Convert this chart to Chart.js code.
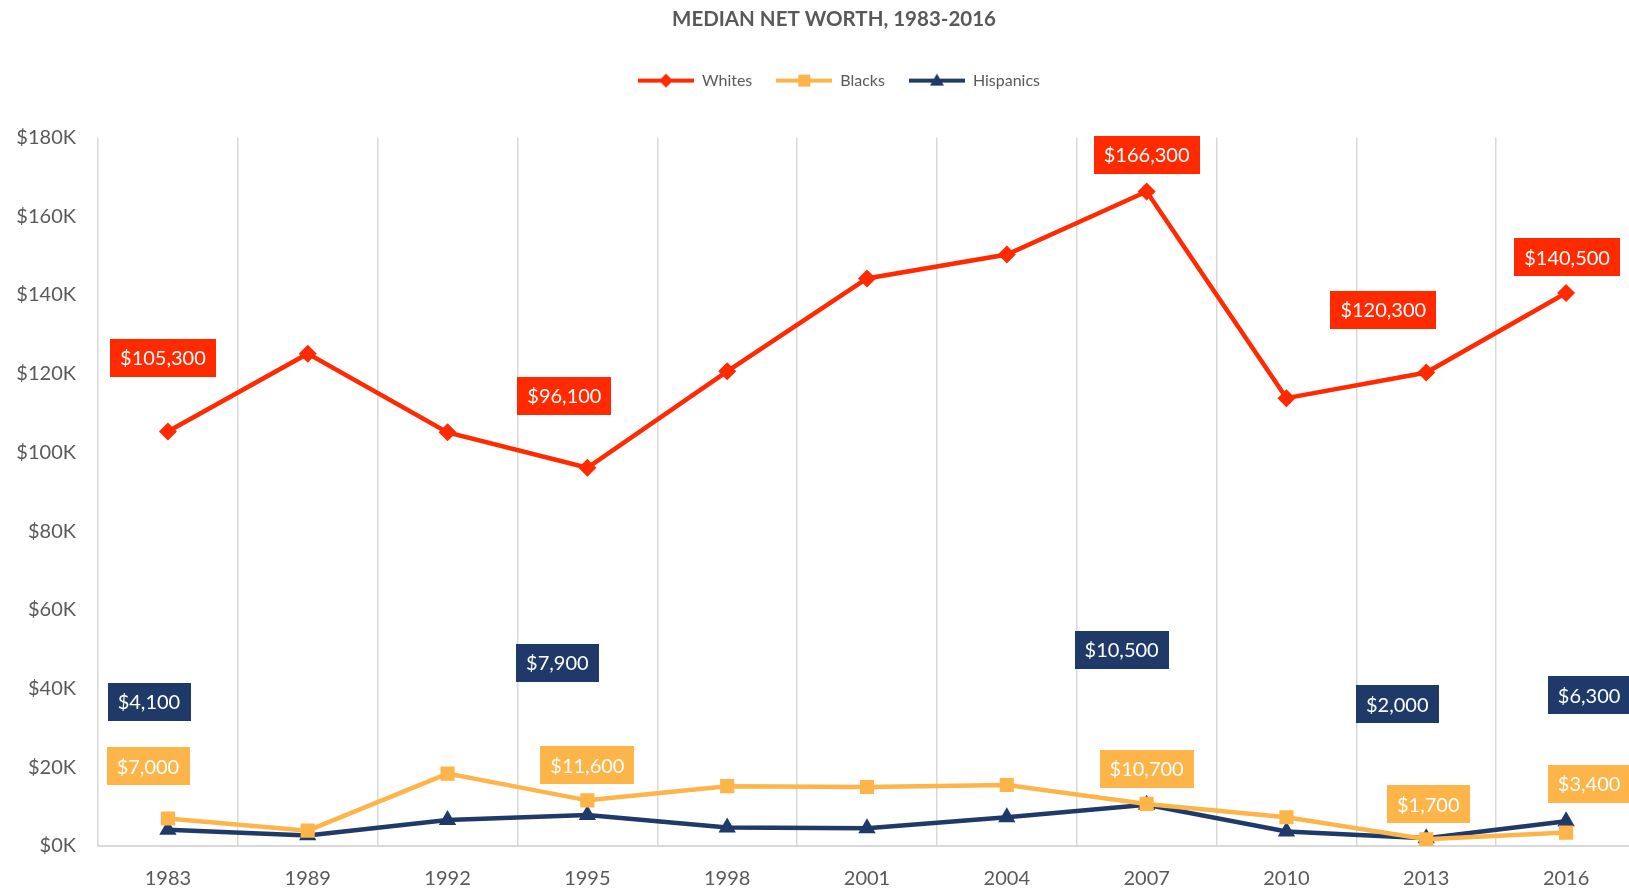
<!DOCTYPE html>
<html><head><meta charset="utf-8">
<script src="https://cdn.jsdelivr.net/npm/chart.js@4"></script>
<style>html,body{margin:0;padding:0;background:#fff;overflow:hidden}#wrap{width:1668px;height:889px}</style>
</head><body><div id="wrap"><canvas id="c" width="1668" height="889"></canvas></div>
<script>
const years = ['1983','1989','1992','1995','1998','2001','2004','2007','2010','2013','2016'];
const whites    = [105300, 125100, 105100, 96100, 120600, 144200, 150300, 166300, 113800, 120300, 140500];
const blacks    = [7000, 3900, 18400, 11600, 15200, 15000, 15500, 10700, 7300, 1700, 3400];
const hispanics = [4100, 2700, 6600, 7900, 4700, 4500, 7300, 10500, 3700, 2000, 6300];
const yTickValues = [0, 20000, 40000, 60000, 80000, 100000, 120000, 140000, 160000, 180000];
const labeledIdx = [0, 3, 7, 9, 10];

const RED = '#FF2A00', GOLD = '#FDB54A', NAVY = '#1F3A68';
const FONT = 'Lato, "Open Sans", sans-serif';
const GREY = '#595959';

// label offsets (pixels) from the point centre to the label centre
const labelOffsets = [
  {0:[-5,-74], 3:[-23,-72], 7:[0,-37], 9:[-43,-63], 10:[1,-36]},
  {0:[-20,-52], 3:[0,-35], 7:[0,-35], 9:[2,-35], 10:[23,-49]},
  {0:[-19,-128], 3:[-30,-152], 7:[-25,-155], 9:[-29,-134], 10:[23,-126]}
];

function icon(color, shape) {
  const c = document.createElement('canvas'); c.width = 56; c.height = 20;
  const ctx = c.getContext('2d');
  ctx.strokeStyle = color; ctx.fillStyle = color; ctx.lineWidth = 4;
  ctx.beginPath(); ctx.moveTo(0, 10); ctx.lineTo(56, 10); ctx.stroke();
  ctx.beginPath();
  if (shape === 'diamond') { ctx.moveTo(28,3); ctx.lineTo(35,10); ctx.lineTo(28,17); ctx.lineTo(21,10); }
  else if (shape === 'square') { ctx.rect(22,4,12,12); }
  else { ctx.moveTo(28,3); ctx.lineTo(35,15); ctx.lineTo(21,15); }
  ctx.closePath(); ctx.fill();
  return c;
}
const icons = [icon(RED,'diamond'), icon(GOLD,'square'), icon(NAVY,'triangle')];

function shiftDraw(box, chart, dx) {
  const od = box.draw.bind(box);
  box.draw = function() { const c = chart.ctx; c.save(); c.translate(dx, 0); od(); c.restore(); };
}

const labelPlugin = {
  id: 'boxLabels',
  afterInit(chart) {
    const lg = chart.legend;
    const orig = lg.fit.bind(lg);
    lg.fit = function() { orig(); this.height += 39; };
    shiftDraw(lg, chart, 21);
    shiftDraw(chart.titleBlock, chart, 16);
  },
  afterDatasetsDraw(chart) {
    const ctx = chart.ctx;
    ctx.save();
    ctx.font = '20px ' + FONT;
    ctx.textAlign = 'center'; ctx.textBaseline = 'middle';
    chart.data.datasets.forEach((ds, i) => {
      const meta = chart.getDatasetMeta(i);
      labeledIdx.forEach(j => {
        const off = labelOffsets[i][j];
        const p = meta.data[j];
        const txt = '$' + ds.data[j].toLocaleString('en-US');
        const w = ctx.measureText(txt).width + 20, h = 38;
        const cx = p.x + off[0], cy = p.y + off[1];
        ctx.fillStyle = ds.borderColor;
        ctx.fillRect(Math.round(cx - w/2), Math.round(cy - h/2), Math.round(w), h);
        ctx.fillStyle = '#FFFFFF';
        ctx.fillText(txt, cx, cy + 1);
      });
    });
    ctx.restore();
  }
};

new Chart(document.getElementById('c'), {
  type: 'line',
  data: {
    labels: years,
    datasets: [
      {label:'Whites', data: whites, borderColor: RED, backgroundColor: RED, borderWidth: 4.5,
       pointStyle:'rectRot', pointRadius: 9, pointBorderWidth: 0, tension: 0},
      {label:'Blacks', data: blacks, borderColor: GOLD, backgroundColor: GOLD, borderWidth: 4.5,
       pointStyle:'rect', pointRadius: 10, pointBorderWidth: 0, tension: 0},
      {label:'Hispanics', data: hispanics, borderColor: NAVY, backgroundColor: NAVY, borderWidth: 4.5,
       pointStyle:'triangle', pointRadius: 10, pointBorderWidth: 0, tension: 0}
    ]
  },
  options: {
    responsive: false, animation: false, devicePixelRatio: 1,
    layout: { padding: { left: 0, right: 32, top: 0, bottom: 0 } },
    plugins: {
      title: { display: true, text: 'MEDIAN NET WORTH, 1983-2016', color: GREY,
               font: { family: FONT, size: 20.5, weight: 'bold' }, padding: { top: 7, bottom: 17 } },
      legend: { display: true, position: 'top',
        labels: { usePointStyle: true, pointStyleWidth: 56, padding: 24, color: GREY,
          font: { family: FONT, size: 16 },
          generateLabels(chart) {
            const items = Chart.defaults.plugins.legend.labels.generateLabels(chart);
            items.forEach(it => { it.pointStyle = icons[it.datasetIndex]; });
            return items;
          } } },
      tooltip: { enabled: false }
    },
    scales: {
      x: { offset: true,
        grid: { offset: true, color: '#D9D9D9', lineWidth: 1.5, drawTicks: false },
        border: { display: true, color: '#D9D9D9', width: 2 },
        ticks: { color: GREY, font: { family: FONT, size: 20 }, padding: 21, maxRotation: 0 },
        afterFit(s) { s.height = 43; } },
      y: { min: 0, max: 180000,
        afterBuildTicks(s) { s.ticks = yTickValues.map(v => ({ value: v })); },
        grid: { display: false, drawTicks: false },
        border: { display: false },
        ticks: { color: GREY, font: { family: FONT, size: 20 }, padding: 22,
          callback: v => '$' + (v/1000) + 'K' },
        afterFit(s) { s.width = 98; } }
    }
  },
  plugins: [labelPlugin]
});
</script></body></html>
